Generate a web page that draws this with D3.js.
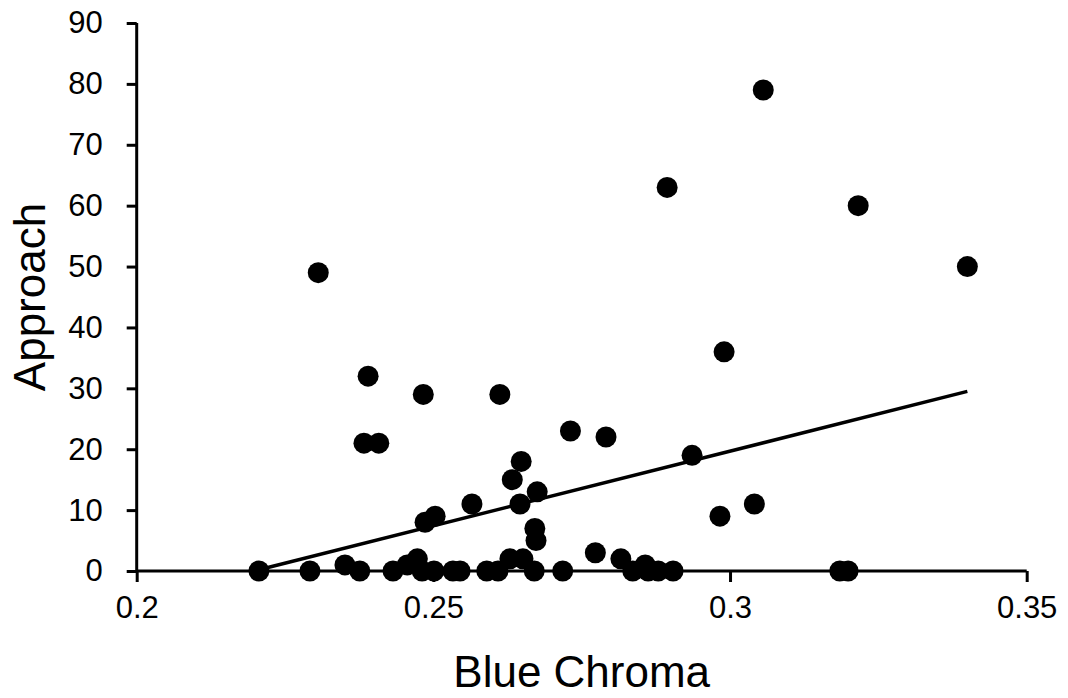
<!DOCTYPE html>
<html>
<head>
<meta charset="utf-8">
<script src="https://cdn.jsdelivr.net/npm/d3@7"></script>
<style>
  body { margin: 0; background: #fff; }
  .frame { display: block; }
  text { font-family: "Liberation Sans", Arial, sans-serif; fill: #000; }
</style>
</head>
<body>
<div id="vis1"></div>
<script>
// data
const BLUE_CHROMA = [0.2206, 0.2292, 0.2306, 0.2351, 0.2376, 0.2383, 0.2390, 0.2408,
  0.2432, 0.2456, 0.2473, 0.2481, 0.2483, 0.2486, 0.2501, 0.2503, 0.2533, 0.2545,
  0.2565, 0.2590, 0.2609, 0.2612, 0.2629, 0.2633, 0.2646, 0.2648, 0.2651, 0.2670,
  0.2671, 0.2673, 0.2675, 0.2718, 0.2731, 0.2773, 0.2791, 0.2816, 0.2836, 0.2857,
  0.2862, 0.2879, 0.2894, 0.2904, 0.2936, 0.2983, 0.2990, 0.3041, 0.3056, 0.3185,
  0.3199, 0.3216, 0.3400];
const APPROACH = [0, 0, 49, 1, 0, 21, 32, 21,
  0, 1, 2, 0, 29, 8, 0, 9, 0, 0,
  11, 0, 0, 29, 2, 15, 11, 18, 2, 0,
  7, 5, 13, 0, 23, 3, 22, 2, 0, 1,
  0, 0, 63, 0, 19, 9, 36, 11, 79, 0,
  0, 60, 50];
// linear trendline end points
const TREND_X = [0.2206, 0.3400];
const TREND_Y = [0.2, 29.5];
const X_TICKS = [0.2, 0.25, 0.3, 0.35];
const Y_TICKS = [0, 10, 20, 30, 40, 50, 60, 70, 80, 90];

const FRAME_HEIGHT = 698;
const FRAME_WIDTH = 1068;
const MARGINS = {left: 136.7, right: 41.3, top: 23, bottom: 127};

const FRAME1 = d3.select("#vis1")
                  .append("svg")
                    .attr("height", FRAME_HEIGHT)
                    .attr("width", FRAME_WIDTH)
                    .attr("class", "frame");

const X_SCALE = d3.scaleLinear()
                  .domain([0.2, 0.35])
                  .range([MARGINS.left, FRAME_WIDTH - MARGINS.right]);
const Y_SCALE = d3.scaleLinear()
                  .domain([0, 90])
                  .range([FRAME_HEIGHT - MARGINS.bottom, MARGINS.top]);

// axes
const xAxis = FRAME1.append("g")
    .attr("transform", "translate(0," + Y_SCALE(0) + ")")
    .call(d3.axisBottom(X_SCALE).tickValues(X_TICKS).tickSize(11).tickPadding(14)
            .tickFormat(d => d3.format("")(+d.toFixed(2))));
const yAxis = FRAME1.append("g")
    .attr("transform", "translate(" + X_SCALE(0.2) + ",0)")
    .call(d3.axisLeft(Y_SCALE).tickValues(Y_TICKS).tickSize(10).tickPadding(24));

[xAxis, yAxis].forEach(g => {
  g.select(".domain").attr("stroke", "#000").attr("stroke-width", 3);
  g.selectAll(".tick line").attr("stroke", "#000").attr("stroke-width", 3);
  g.selectAll(".tick text").attr("font-size", "31px")
    .attr("font-family", "Liberation Sans, Arial, sans-serif").attr("fill", "#000");
});
yAxis.select(".domain").attr("d", "M0," + Y_SCALE(90) + "V" + Y_SCALE(0));
xAxis.select(".domain").attr("d", "M" + X_SCALE(0.2) + ",0H" + X_SCALE(0.35));

// trendline
FRAME1.append("line")
    .attr("x1", X_SCALE(TREND_X[0])).attr("y1", Y_SCALE(TREND_Y[0]))
    .attr("x2", X_SCALE(TREND_X[1])).attr("y2", Y_SCALE(TREND_Y[1]))
    .attr("stroke", "#000").attr("stroke-width", 3.5);

// points
FRAME1.selectAll("circle")
    .data(BLUE_CHROMA)
    .enter()
    .append("circle")
      .attr("cx", d => X_SCALE(d))
      .attr("cy", (d, i) => Y_SCALE(APPROACH[i]))
      .attr("r", 10.5)
      .attr("fill", "#000");

// axis titles
FRAME1.append("text")
    .attr("x", (X_SCALE(0.2) + X_SCALE(0.35)) / 2)
    .attr("y", 687)
    .attr("text-anchor", "middle")
    .attr("font-size", "44px")
    .text("Blue Chroma");
FRAME1.append("text")
    .attr("transform", "translate(45," + (Y_SCALE(0) + Y_SCALE(90)) / 2 + ") rotate(-90)")
    .attr("text-anchor", "middle")
    .attr("font-size", "44px")
    .text("Approach");
</script>
</body>
</html>
